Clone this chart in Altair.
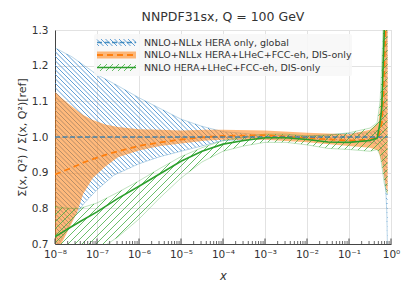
import numpy as np
import pandas as pd
import altair as alt

# ---------------- data ----------------
# x positions are stored as log10(x)
blue_log10x = [-8, -7.6, -7.3, -7, -6.6, -6, -5.5, -5, -4.5, -4, -3, -2, -1, -0.5, -0.3, -0.22, -0.155, -0.12, -0.1, -0.08]
blue_hi = [1.25, 1.225, 1.20, 1.175, 1.15, 1.11, 1.08, 1.05, 1.03, 1.015, 1.005, 1.003, 1.01, 1.012, 1.02, 1.04, 1.10, 1.2, 1.3, 1.4]
blue_lo = [0.68, 0.767, 0.815, 0.852, 0.893, 0.925, 0.945, 0.96, 0.975, 0.99, 0.995, 0.995, 0.99, 0.985, 0.98, 0.96, 0.90, 0.84, 0.79, 0.66]
blue_mid = [1.0] * len(blue_log10x)

orange_log10x = [-8, -7.85, -7.64, -7.48, -7.33, -7.1, -6.8, -6.5, -6, -5.5, -5, -4.4, -4, -3, -2, -1, -0.5, -0.3, -0.22, -0.18, -0.12, -0.08]
orange_hi = [1.127, 1.11, 1.09, 1.075, 1.062, 1.048, 1.035, 1.028, 1.022, 1.02, 1.018, 1.02, 1.02, 1.018, 1.012, 1.008, 1.02, 1.04, 1.13, 1.3, 1.6, 1.8]
orange_lo = [0.62, 0.70, 0.749, 0.787, 0.84, 0.885, 0.917, 0.943, 0.962, 0.975, 0.982, 0.99, 0.992, 0.992, 0.985, 0.975, 0.97, 0.962, 0.93, 0.9, 0.86, 0.84]
orange_mid = [0.895, 0.902, 0.912, 0.92, 0.928, 0.938, 0.95, 0.96, 0.975, 0.985, 0.993, 1.0, 1.003, 1.005, 0.997, 0.99, 0.993, 1.0, 1.04, 1.12, 1.35, 1.5]

green_log10x = [-8, -7.7, -7.4, -7, -6.5, -6, -5.5, -5, -4.5, -4, -3.5, -3, -2.5, -2, -1.5, -1, -0.5, -0.33, -0.26, -0.22, -0.16, -0.12, -0.08]
green_mid = [0.72, 0.742, 0.763, 0.79, 0.828, 0.862, 0.897, 0.932, 0.96, 0.98, 0.99, 0.998, 0.998, 0.993, 0.986, 0.985, 0.99, 0.997, 1.04, 1.08, 1.3, 1.45, 1.6]
green_hi = [0.805, 0.80, 0.80, 0.815, 0.845, 0.877, 0.912, 0.945, 0.97, 0.99, 1.0, 1.008, 1.008, 1.003, 1.005, 1.012, 1.025, 1.04, 1.1, 1.2, 1.4, 1.6, 1.8]
green_lo = [0.60, 0.63, 0.65, 0.68, 0.72, 0.77, 0.83, 0.885, 0.93, 0.96, 0.975, 0.985, 0.985, 0.978, 0.968, 0.965, 0.96, 0.965, 0.95, 0.92, 0.87, 0.85, 0.84]

series_labels = [
    "NNLO+NLLx HERA only, global",
    "NNLO+NLLx HERA+LHeC+FCC-eh, DIS-only",
    "NNLO HERA+LHeC+FCC-eh, DIS-only",
]
x_tick_exps = [-8, -7, -6, -5, -4, -3, -2, -1, 0]
x_tick_labels = ["10⁻⁸", "10⁻⁷", "10⁻⁶", "10⁻⁵", "10⁻⁴", "10⁻³", "10⁻²", "10⁻¹", "10⁰"]
y_ticks = [0.7, 0.8, 0.9, 1.0, 1.1, 1.2, 1.3]
title_text = "NNPDF31sx, Q = 100 GeV"
y_title = "Σ(x, Q²) / Σ(x, Q²)[ref]"
x_title = "x"

# ---------------- styling / geometry ----------------
W, H = 336, 214
XE0, XE1 = -8, 0
Y0, Y1 = 0.7, 1.3
BLUE, ORANGE, GREEN = "#1f77b4", "#ff7f0e", "#2ca02c"
BLUE_HATCH, GREEN_HATCH = "#3a88cc", "#3dab3d"
FONT = "DejaVu Sans"
TXT = "#333333"


def px_to_data(X, Y):
    return 10 ** (XE0 + np.asarray(X) / W * (XE1 - XE0)), Y1 - np.asarray(Y) / H * (Y1 - Y0)


def hatch_rows(inside_fn, spacing, slope, xmin=0.0, xmax=W):
    X = np.arange(xmin, xmax + 0.01, 0.25)
    rows = []
    for c in np.arange(-W - H, W + H, spacing):
        Y = c + slope * X
        inside = inside_fn(X, Y)
        idx = np.flatnonzero(inside)
        if len(idx) == 0:
            continue
        br = np.flatnonzero(np.diff(idx) > 1)
        starts = np.r_[idx[0], idx[br + 1]]
        ends = np.r_[idx[br], idx[-1]]
        for s, e in zip(starts, ends):
            if e > s:
                xa, ya = px_to_data(X[s], Y[s])
                xb, yb = px_to_data(X[e], Y[e])
                rows.append(dict(x=float(xa), y=float(ya), x2=float(xb), y2=float(yb)))
    return pd.DataFrame(rows)


def band_inside(lx_k, lo_k, hi_k):
    def f(X, Y):
        lx = XE0 + X / W * (XE1 - XE0)
        lo = np.interp(lx, lx_k, lo_k, left=np.nan, right=np.nan)
        hi = np.interp(lx, lx_k, hi_k, left=np.nan, right=np.nan)
        v = Y1 - Y / H * (Y1 - Y0)
        with np.errstate(invalid="ignore"):
            return (Y >= 0) & (Y <= H) & (v >= lo) & (v <= hi)
    return f


def rect_inside(x0, x1, y0, y1):
    def f(X, Y):
        return (X >= x0) & (X <= x1) & (Y >= y0) & (Y <= y1)
    return f


def band_df(lx, lo, hi, mid):
    return pd.DataFrame({"x": 10 ** np.array(lx, float), "lo": lo, "hi": hi, "mid": mid})


blue_df = band_df(blue_log10x, blue_lo, blue_hi, blue_mid)
orange_df = band_df(orange_log10x, orange_lo, orange_hi, orange_mid)
green_df = band_df(green_log10x, green_lo, green_hi, green_mid)

blue_hatch = hatch_rows(band_inside(blue_log10x, blue_lo, blue_hi), 4.5, 1)
green_hatch = hatch_rows(band_inside(green_log10x, green_lo, green_hi), 7, -1)

# legend geometry (pixels inside the plot area)
LX0, LX1 = 42, 81
rows_y = [12.5, 25, 37.5]
SH = 3.5
leg_blue_hatch = hatch_rows(rect_inside(LX0, LX1, rows_y[0] - SH, rows_y[0] + SH), 4.5, 1, LX0, LX1)
leg_green_hatch = hatch_rows(rect_inside(LX0, LX1, rows_y[2] - SH, rows_y[2] + SH), 6, -1, LX0, LX1)

xscale = alt.Scale(type="log", domain=[10.0 ** XE0, 10.0 ** XE1], nice=False)
yscale = alt.Scale(domain=[Y0, Y1], nice=False, zero=False)

label_expr = ""
for e, lab in zip(x_tick_exps[:-1], x_tick_labels[:-1]):
    label_expr += f"datum.value < {10.0 ** (e + 0.5)} ? '{lab}' : "
label_expr += f"'{x_tick_labels[-1]}'"

xaxis = alt.Axis(values=[10.0 ** e for e in x_tick_exps], labelExpr=label_expr, ticks=False,
                 labelFlush=False, labelOverlap=False, labelPadding=5, labelFontSize=10.5,
                 title=x_title, titleFontStyle="italic", titleFontSize=11.5, titlePadding=11)
yaxis = alt.Axis(values=y_ticks, format=".1f", ticks=False, labelPadding=7, labelFontSize=10.5,
                 title=y_title, titleFontSize=11, titleX=-28, titleY=H / 2)

X = lambda f="x": alt.X(f"{f}:Q", scale=xscale, axis=xaxis)
Yc = lambda f: alt.Y(f"{f}:Q", scale=yscale, axis=yaxis)

layers = []

# blue band: hatch + faint edges
layers.append(alt.Chart(blue_hatch).mark_rule(clip=True, color=BLUE_HATCH, strokeWidth=0.85, opacity=0.95).encode(
    x=X(), x2="x2:Q", y=Yc("y"), y2="y2:Q"))
for fld in ["hi", "lo"]:
    layers.append(alt.Chart(blue_df).mark_line(clip=True, color=BLUE, strokeWidth=1, opacity=0.3).encode(
        x=X(), y=Yc(fld)))

# orange band
layers.append(alt.Chart(orange_df).mark_area(clip=True, color=ORANGE, opacity=0.55).encode(
    x=X(), y=Yc("lo"), y2="hi:Q"))

# green band: hatch + faint edges
layers.append(alt.Chart(green_hatch).mark_rule(clip=True, color=GREEN_HATCH, strokeWidth=0.85, opacity=0.9).encode(
    x=X(), x2="x2:Q", y=Yc("y"), y2="y2:Q"))
for fld in ["hi", "lo"]:
    layers.append(alt.Chart(green_df).mark_line(clip=True, color=GREEN, strokeWidth=1, opacity=0.3).encode(
        x=X(), y=Yc(fld)))

# central lines
layers.append(alt.Chart(orange_df).mark_line(clip=True, color=ORANGE, strokeWidth=1.8, strokeDash=[6, 4]).encode(
    x=X(), y=Yc("mid")))
layers.append(alt.Chart(blue_df).mark_line(clip=True, color=BLUE, strokeWidth=1.5, strokeDash=[5, 2.5], opacity=0.8).encode(
    x=X(), y=Yc("mid")))
layers.append(alt.Chart(green_df).mark_line(clip=True, color=GREEN, strokeWidth=1.6).encode(
    x=X(), y=Yc("mid")))

# inward ticks on the x axis
major_df = pd.DataFrame({"x": [10.0 ** e for e in x_tick_exps]})
minor_df = pd.DataFrame({"x": [k * 10.0 ** e for e in x_tick_exps[:-1] for k in range(2, 10)]})
layers.append(alt.Chart(major_df).mark_rule(color="#444444", strokeWidth=1).encode(
    x=X(), y=alt.value(H), y2=alt.value(H - 5.5)))
layers.append(alt.Chart(minor_df).mark_rule(color="#444444", strokeWidth=0.8).encode(
    x=X(), y=alt.value(H), y2=alt.value(H - 3)))

# legend
one = pd.DataFrame({"a": [0]})
layers.append(alt.Chart(one).mark_rect(color="#f7f7f7", opacity=0.9, cornerRadius=2).encode(
    x=alt.value(39), x2=alt.value(297), y=alt.value(4), y2=alt.value(46)))
layers.append(alt.Chart(leg_blue_hatch).mark_rule(color=BLUE_HATCH, strokeWidth=0.85, opacity=0.95).encode(
    x=X(), x2="x2:Q", y=Yc("y"), y2="y2:Q"))
layers.append(alt.Chart(one).mark_rule(color=BLUE, strokeWidth=1.5, strokeDash=[5, 2.5], opacity=0.8).encode(
    x=alt.value(LX0), x2=alt.value(LX1), y=alt.value(rows_y[0])))
layers.append(alt.Chart(one).mark_rect(color=ORANGE, opacity=0.55).encode(
    x=alt.value(LX0), x2=alt.value(LX1), y=alt.value(rows_y[1] - SH), y2=alt.value(rows_y[1] + SH)))
layers.append(alt.Chart(one).mark_rule(color=ORANGE, strokeWidth=1.8, strokeDash=[6, 4]).encode(
    x=alt.value(LX0), x2=alt.value(LX1), y=alt.value(rows_y[1])))
layers.append(alt.Chart(leg_green_hatch).mark_rule(color=GREEN_HATCH, strokeWidth=0.85, opacity=0.9).encode(
    x=X(), x2="x2:Q", y=Yc("y"), y2="y2:Q"))
layers.append(alt.Chart(one).mark_rule(color=GREEN, strokeWidth=1.6).encode(
    x=alt.value(LX0), x2=alt.value(LX1), y=alt.value(rows_y[2])))
for lab, ry in zip(series_labels, rows_y):
    layers.append(alt.Chart(one).mark_text(align="left", baseline="middle", font=FONT, fontSize=9.5, color=TXT).encode(
        x=alt.value(89), y=alt.value(ry), text=alt.value(lab)))

# chart title, placed above the plot area
layers.append(alt.Chart(one).mark_text(align="center", baseline="alphabetic", font=FONT, fontSize=12.5, color=TXT).encode(
    x=alt.value(W / 2), y=alt.value(-9), text=alt.value(title_text)))

chart = alt.layer(*layers).properties(
    width=W, height=H,
    autosize=alt.AutoSizeParams(type="none"),
    padding={"left": 47, "top": 22, "right": 13, "bottom": 40},
).configure_axis(
    labelFont=FONT, titleFont=FONT, labelColor=TXT, titleColor=TXT, titleFontWeight="normal",
    gridColor="#e2e2e2", gridWidth=1, domainColor="#444444", domainWidth=1,
).configure_view(stroke="#d0d0d0", strokeWidth=1)

chart.save("out.html", embed_options={"renderer": "svg", "actions": False})
